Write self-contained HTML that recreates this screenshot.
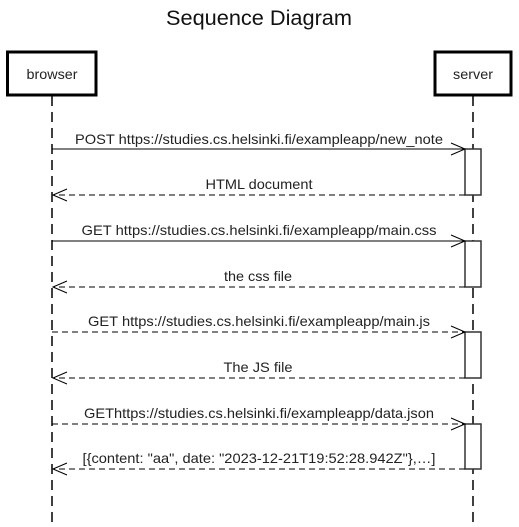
<!DOCTYPE html>
<html><head><meta charset="utf-8"><style>html,body{margin:0;padding:0;background:#fff;}svg{display:block}</style></head>
<body>
<svg width="519" height="527" xmlns="http://www.w3.org/2000/svg" font-family="'Liberation Sans', Arial, sans-serif">
<rect width="519" height="527" fill="#fff"/>
<text x="259" y="25" font-size="21" text-anchor="middle" textLength="186" lengthAdjust="spacingAndGlyphs" fill="#111">Sequence Diagram</text>
<g stroke="#000" stroke-width="1.5" stroke-dasharray="10,6" fill="none">
<line x1="52" y1="96" x2="52" y2="527"/>
<line x1="473" y1="96" x2="473" y2="527"/>
</g>
<rect x="7.5" y="52" width="88.5" height="43" fill="#fff" stroke="#000" stroke-width="3"/>
<text x="52" y="79" font-size="14" text-anchor="middle" fill="#222" textLength="51" lengthAdjust="spacingAndGlyphs">browser</text>
<rect x="435" y="52" width="76" height="43" fill="#fff" stroke="#000" stroke-width="3"/>
<text x="473" y="79" font-size="14" text-anchor="middle" fill="#222" textLength="40" lengthAdjust="spacingAndGlyphs">server</text>
<g stroke="#333" stroke-width="1.5" fill="#fff">
<rect x="465" y="149" width="16" height="46"/>
<rect x="465" y="241" width="16" height="46"/>
<rect x="465" y="332" width="16" height="46"/>
<rect x="465" y="424" width="16" height="45"/>
</g>
<g stroke="#000" stroke-width="1" fill="none">
<line x1="52" y1="149" x2="465" y2="149"/>
<polyline points="451,143 465,149 451,155"/>
<line x1="465" y1="195" x2="53" y2="195" stroke-dasharray="6,4"/>
<polyline points="67,189 53,195 67,201"/>
<line x1="52" y1="241" x2="465" y2="241"/>
<polyline points="451,235 465,241 451,247"/>
<line x1="465" y1="287" x2="53" y2="287" stroke-dasharray="6,4"/>
<polyline points="67,281 53,287 67,293"/>
<line x1="52" y1="332" x2="465" y2="332" stroke-dasharray="6,4"/>
<polyline points="451,326 465,332 451,338"/>
<line x1="465" y1="378" x2="53" y2="378" stroke-dasharray="6,4"/>
<polyline points="67,372 53,378 67,384"/>
<line x1="52" y1="424" x2="465" y2="424" stroke-dasharray="6,4"/>
<polyline points="451,418 465,424 451,430"/>
<line x1="465" y1="469" x2="53" y2="469" stroke-dasharray="6,4"/>
<polyline points="67,463 53,469 67,475"/>
</g>
<g font-size="14" text-anchor="middle" fill="#222" lengthAdjust="spacingAndGlyphs">
<text x="259" y="144" textLength="368" lengthAdjust="spacingAndGlyphs">POST https://studies.cs.helsinki.fi/exampleapp/new_note</text>
<text x="259" y="189" textLength="107" lengthAdjust="spacingAndGlyphs">HTML document</text>
<text x="259" y="235" textLength="355" lengthAdjust="spacingAndGlyphs">GET https://studies.cs.helsinki.fi/exampleapp/main.css</text>
<text x="258" y="281" textLength="68" lengthAdjust="spacingAndGlyphs">the css file</text>
<text x="259" y="326" textLength="342" lengthAdjust="spacingAndGlyphs">GET https://studies.cs.helsinki.fi/exampleapp/main.js</text>
<text x="258" y="372" textLength="69" lengthAdjust="spacingAndGlyphs">The JS file</text>
<text x="259" y="418" textLength="350" lengthAdjust="spacingAndGlyphs">GEThttps://studies.cs.helsinki.fi/exampleapp/data.json</text>
<text x="259" y="463" textLength="353" lengthAdjust="spacingAndGlyphs">[{content: "aa", date: "2023-12-21T19:52:28.942Z"},…]</text>
</g>
</svg>
</body></html>
